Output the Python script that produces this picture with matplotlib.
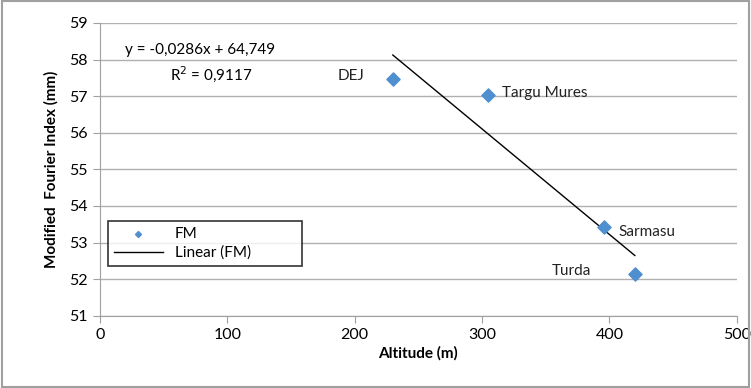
import numpy as np
import matplotlib.pyplot as plt

plt.rcParams['font.family'] = ['Lato', 'DejaVu Sans']

# datos
stations = ['DEJ', 'Targu Mures', 'Sarmasu', 'Turda']
altitude = [230, 305, 396, 420]
fm = [57.47, 57.02, 53.43, 52.15]

fig = plt.figure(figsize=(7.51, 3.88), dpi=100)
ax = fig.add_axes([0.133, 0.186, 0.848, 0.755])

# borde exterior
fig.patches.append(plt.Rectangle((0.003, 0.003), 0.994, 0.994, transform=fig.transFigure,
                                 fill=False, edgecolor='#a0a0a0', linewidth=1.5))

ax.scatter(altitude, fm, marker='D', s=45, color='#4f8fd0', zorder=3, label='FM')

# recta de tendencia
m, b = np.polyfit(altitude, fm, 1)
xl = np.array([min(altitude), max(altitude)])
ax.plot(xl, m * xl + b, color='black', linewidth=1, label='Linear (FM)')

offsets = {'DEJ': (-40, 2), 'Targu Mures': (10, 2), 'Sarmasu': (10, -4), 'Turda': (-60, 2)}
for name, x, y in zip(stations, altitude, fm):
    ax.annotate(name, (x, y), xytext=offsets[name], textcoords='offset points',
                fontsize=11, va='center', color='#222222')

ax.text(0.04, 0.895, 'y = -0,0286x + 64,749', transform=ax.transAxes, fontsize=11)
ax.text(0.11, 0.805, 'R$^2$ = 0,9117', transform=ax.transAxes, fontsize=11)

ax.set_xlim(0, 500)
ax.set_ylim(51, 59)
ax.set_xticks(range(0, 501, 100))
ax.set_yticks(range(51, 60))
ax.grid(axis='y', color='#b0b0b0', linewidth=1)
ax.set_axisbelow(True)
for s in ['top', 'right']:
    ax.spines[s].set_visible(False)
for s in ['left', 'bottom']:
    ax.spines[s].set_color('#a0a0a0')
ax.tick_params(axis='x', direction='out', length=5, color='#a0a0a0', labelsize=11.5)
ax.tick_params(axis='y', direction='out', length=5, color='#a0a0a0', labelsize=11.5)
ax.set_xlabel('Altitude (m)', fontweight='bold', fontsize=11, labelpad=3)
ax.set_ylabel('Modified  Fourier Index (mm)', fontweight='bold', fontsize=11, labelpad=8)

leg = ax.legend(loc='lower left', bbox_to_anchor=(0.0125, 0.17, 0.305, 0.17), mode='expand',
                frameon=True, fancybox=False, fontsize=11, markerscale=0.45,
                borderaxespad=0, handlelength=3.2, labelspacing=0.3, borderpad=0.4)
leg.get_frame().set_edgecolor('black')
leg.get_frame().set_linewidth(1.2)

fig.savefig('out.png', dpi=100)
